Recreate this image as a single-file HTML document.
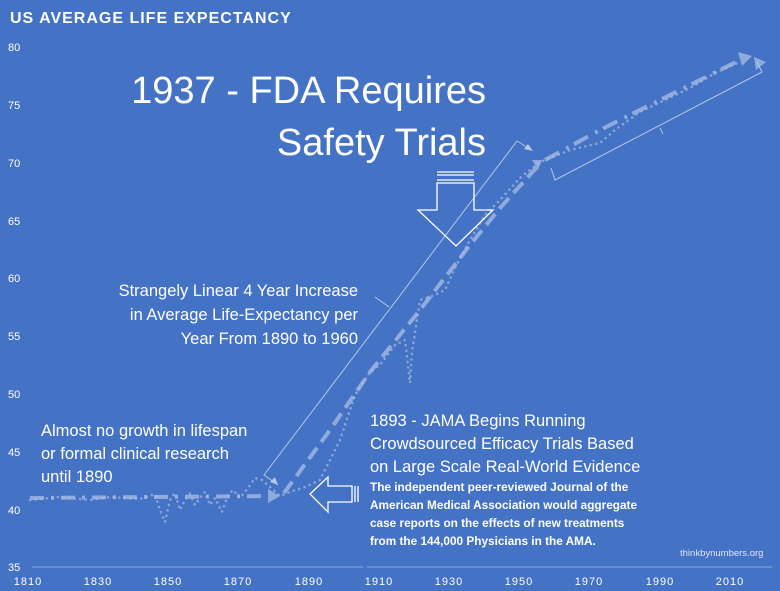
<!DOCTYPE html>
<html><head><meta charset="utf-8"><style>
html,body{margin:0;padding:0;background:#4472C4;}
svg{display:block;font-family:"Liberation Sans","DejaVu Sans",sans-serif;}
</style></head><body>
<svg width="780" height="591" viewBox="0 0 780 591" xmlns="http://www.w3.org/2000/svg">
<rect width="780" height="591" fill="#4472C4"/>
<text x="10" y="23" fill="#fff" font-size="16" font-weight="bold" letter-spacing="1">US AVERAGE LIFE EXPECTANCY</text>
<g fill="#fff" font-size="11">
<text x="8" y="51">80</text><text x="8" y="109">75</text><text x="8" y="167">70</text>
<text x="8" y="225">65</text><text x="8" y="282">60</text><text x="8" y="340">55</text>
<text x="8" y="398">50</text><text x="8" y="456">45</text><text x="8" y="514">40</text>
<text x="8" y="571">35</text>
</g>
<g fill="#fff" font-size="11" text-anchor="middle" letter-spacing="1">
<text x="28" y="585">1810</text><text x="98" y="585">1830</text><text x="168" y="585">1850</text>
<text x="238" y="585">1870</text><text x="309" y="585">1890</text><text x="379" y="585">1910</text>
<text x="449" y="585">1930</text><text x="519" y="585">1950</text><text x="589" y="585">1970</text>
<text x="660" y="585">1990</text><text x="730" y="585">2010</text>
</g>
<line x1="32" y1="567" x2="363" y2="567" stroke="#8faadc" stroke-width="1"/>
<line x1="367" y1="567" x2="772" y2="567" stroke="#8faadc" stroke-width="1"/>
<!-- dotted series -->
<polyline fill="none" stroke="#8faadc" stroke-width="2.6" stroke-dasharray="0.1 5.5" stroke-linecap="round" opacity="0.9"
points="30,500 60,497 90,500 110,497 140,499 155,494 160,510 165,522 170,500 175,493 180,510 185,500 190,494 195,505 200,498 205,492 210,505 215,498 222,512 228,495 233,490 240,498 248,488 255,478 262,480 270,487 280,496 290,492 305,487 320,480 340,440 355,395 370,372 380,365 395,345 405,340 410,383 412,352 420,300 435,295 445,290 455,268 470,240 485,215 500,200 520,178 540,162 570,150 600,143 615,130 640,112 665,100 690,88 715,73 740,62"/>
<!-- dashed series -->
<g opacity="0.75">
<polyline fill="none" stroke="#a9bfe6" stroke-width="4" stroke-dasharray="14 7 3 7"
points="30,498 270,496"/>
<polygon points="268,489 280,496 268,503" fill="#a9bfe6"/>
<polyline fill="none" stroke="#a9bfe6" stroke-width="4" stroke-dasharray="14 7"
points="284,493 330,430 370,372 420,310 470,245 500,208 537,167"/>
<polygon points="532,160 542,160 538,170" fill="#a9bfe6"/>
<polyline fill="none" stroke="#a9bfe6" stroke-width="4" stroke-dasharray="16 8 3 6"
points="545,160 600,130 660,100 710,75 740,60"/>
<polygon points="738,52 752,56 742,66" fill="#a9bfe6"/>
<polygon points="754,57 766,62 756,70" fill="#a9bfe6"/>
</g>
<!-- leader line with arrows -->
<polyline fill="none" stroke="#b4c7e7" stroke-width="1" points="278,485 264,475 517,141 530,149"/>
<polygon points="278,485 270,482 275,477" fill="#b4c7e7"/>
<polygon points="533,151 524,149 528,144" fill="#b4c7e7"/>
<line x1="375" y1="297" x2="389" y2="307" stroke="#b4c7e7" stroke-width="1"/>
<!-- bracket -->
<polyline fill="none" stroke="#b4c7e7" stroke-width="1" points="551,168 555,180 762,72 757,62"/>
<line x1="660" y1="128" x2="663" y2="134" stroke="#b4c7e7" stroke-width="1"/>
<!-- down arrow -->
<g fill="none" stroke="#fff" stroke-width="1.3">
<line x1="437" y1="172" x2="474" y2="172"/>
<line x1="437" y1="175" x2="474" y2="175"/>
<line x1="437" y1="180" x2="474" y2="180"/>
<polygon points="437,183 474,183 474,210 493,210 456,246 418,210 437,210"/>
<!-- left arrow -->
<polygon points="310,494 328,477 328,486 352,486 352,502 328,502 328,512"/>
<line x1="355" y1="486" x2="355" y2="502"/>
<line x1="358" y1="486" x2="358" y2="502"/>
</g>
<g fill="#fff">
<text x="486" y="103" font-size="38" text-anchor="end">1937 - FDA Requires</text>
<text x="486" y="155" font-size="38" text-anchor="end">Safety Trials</text>
<g font-size="16.5" text-anchor="end">
<text x="358" y="296">Strangely Linear 4 Year Increase</text>
<text x="358" y="320">in Average Life-Expectancy per</text>
<text x="358" y="344">Year From 1890 to 1960</text>
</g>
<g font-size="16.5">
<text x="41" y="436">Almost no growth in lifespan</text>
<text x="41" y="459">or formal clinical research</text>
<text x="41" y="482">until 1890</text>
<text x="370" y="426">1893 - JAMA Begins Running</text>
<text x="370" y="449">Crowdsourced Efficacy Trials Based</text>
<text x="370" y="472">on Large Scale Real-World Evidence</text>
</g>
<g font-size="11.8" font-weight="bold">
<text x="370" y="491">The independent peer-reviewed Journal of the</text>
<text x="370" y="509">American Medical Association would aggregate</text>
<text x="370" y="527">case reports on the effects of new treatments</text>
<text x="370" y="545">from the 144,000 Physicians in the AMA.</text>
</g>
<text x="680" y="556" font-size="9.5" fill="#dde6f5">thinkbynumbers.org</text>
</g>
</svg>
</body></html>
